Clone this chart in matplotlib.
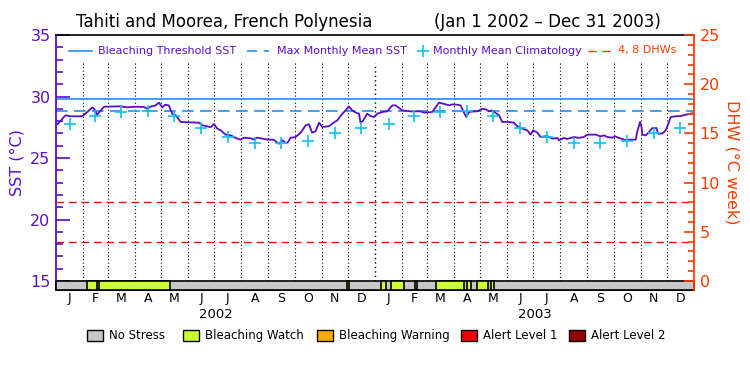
import numpy as np
import matplotlib
matplotlib.use("Agg")
import matplotlib.pyplot as plt
from matplotlib.patches import Rectangle
from matplotlib.lines import Line2D
from matplotlib.ticker import MultipleLocator

# daily SST trace (days since Jan 1 2002, deg C)
sst_day = [0, 3.4, 9, 11, 16.8, 30, 35.8, 41.6, 44, 47, 55, 74, 81.6, 91, 100.7, 104.5,
           108, 114, 117.8, 121.6, 124.7, 129, 133, 137, 142.6, 152, 163.6, 167.4, 173,
           177, 180.8, 184.6, 188.4, 194, 200, 205.6, 211, 215, 222.7, 226.5, 230, 238,
           243.7, 249, 255, 259, 262.8, 265, 268.5, 274, 280, 285.7, 289.5, 293, 297,
           301, 304.7, 312.3, 316, 321.8, 327.6, 331.5, 335, 339, 343, 346.7, 348.5,
           351.6, 356, 360, 363.8, 367.6, 373.3, 379, 384.8, 388.6, 392.4, 396.2, 405.8,
           417, 421, 430.6, 434.5, 438.2, 444, 449.7, 453.4, 459, 463, 466.8, 469.5,
           472.5, 478.3, 482, 487.8, 491.6, 495.4, 499, 506.9, 510.6, 518, 524, 527.8,
           533.5, 539.3, 543, 546, 550.7, 554.6, 562, 568, 573.7, 575.5, 581, 585,
           592.7, 598, 604, 607.9, 617.5, 623, 627, 630.8, 636.5, 640, 644, 648, 652,
           655.6, 663.3, 665, 668.3, 670, 671, 674.8, 678.6, 682.4, 687, 689, 694,
           697.6, 701.4, 703.3, 709, 714.7, 720.5, 726, 730]
sst_val = [27.66, 27.87, 28.33, 28.47, 28.39, 28.39, 28.74, 29.12, 28.96, 28.52, 29.17,
           29.2, 29.12, 29.17, 29.15, 29.0, 29.17, 29.28, 29.5, 29.12, 29.33, 29.28,
           28.6, 28.47, 27.93, 27.9, 27.87, 27.66, 27.58, 27.5, 27.77, 27.38, 27.25,
           26.9, 26.84, 26.63, 26.49, 26.65, 26.6, 26.5, 26.65, 26.55, 26.49, 26.49,
           26.16, 26.44, 26.22, 26.25, 26.65, 26.7, 27.06, 27.66, 27.74, 27.06, 27.17,
           27.87, 27.52, 27.58, 27.79, 28.06, 28.6, 28.87, 29.2, 28.87, 28.69, 28.6,
           27.84, 28.06, 28.6, 28.41, 28.33, 28.6, 28.74, 28.79, 29.28, 29.28, 29.07,
           28.87, 28.79, 28.79, 28.69, 28.74, 29.14, 29.5, 29.4, 29.28, 29.36, 29.33,
           29.28, 28.69, 28.33, 28.74, 28.79, 28.79, 29.0, 28.96, 28.79, 28.87, 28.47,
           27.93, 27.93, 27.87, 27.58, 27.38, 27.25, 26.9, 27.25, 27.06, 26.71, 26.79,
           26.57, 26.63, 26.44, 26.63, 26.55, 26.71, 26.63, 26.71, 26.9, 26.9, 26.76,
           26.84, 26.71, 26.65, 26.76, 26.63, 26.55, 26.44, 26.49, 26.49, 27.11, 27.93,
           27.52, 26.9, 26.84, 27.11, 27.44, 27.44, 26.97, 27.0, 27.25, 27.93, 28.33,
           28.39, 28.41, 28.52, 28.6, 28.66]

# monthly mean climatology, Jan..Dec
clim_sst = [27.8, 28.4, 28.75, 28.8, 28.4, 27.4, 26.7, 26.2, 26.25, 26.35, 27.05, 27.45]

threshold_sst = 29.8
mmm_sst = 28.8
dhw_levels = [4, 8]

# bleaching watch periods in the stress strip (days since Jan 1 2002)
watch_start = [35.8, 49.2, 333.3, 371.9, 383.3, 411.1, 434.4, 470.6, 481.3, 497.4]
watch_end = [47.3, 130.4, 335.6, 377.6, 398.5, 413.4, 467.2, 474.5, 494.6, 501.1]

month_letters = ["J", "F", "M", "A", "M", "J", "J", "A", "S", "O", "N", "D"]
years = ["2002", "2003"]

stress_names = ["No Stress", "Bleaching Watch", "Bleaching Warning",
                "Alert Level 1", "Alert Level 2"]
stress_colors = ["#c8c8c8", "#ccff33", "#ffaa00", "#ee0000", "#960000"]

PURPLE = "#5a0dc8"
BLUE = "#1e90f0"
CYAN = "#10c0f0"
RED = "#e81010"
ORANGE = "#ff3c00"

W, H = 750, 375


def fx(px):
    return px / W


def fy(py):
    return 1 - py / H


def main():
    fig = plt.figure(figsize=(7.5, 3.75), dpi=100)
    ax = fig.add_axes([fx(56), fy(290), 638 / W, 255 / H])

    sst_lo = 15 - 9 / 12.3
    ax.set_xlim(0, 730)
    ax.set_ylim(sst_lo, 35)

    ax2 = ax.twinx()
    ax2.set_ylim((sst_lo - 15) * 1.25, 25)

    # month boundaries / mid points
    starts = np.arange("2002-01", "2004-02", dtype="datetime64[M]").astype("datetime64[D]")
    sdays = (starts - np.datetime64("2002-01-01")).astype(int)
    mids = (sdays[:-1] + sdays[1:]) / 2

    for d in sdays[1:-1]:
        ax.plot([d, d], [15, 32.7], color="black", lw=1.0 if d == 365 else 0.8,
                linestyle=(0, (1, 2.2)), zorder=1)

    ax.axhline(threshold_sst, color=BLUE, lw=1.2, zorder=2)
    ax.axhline(mmm_sst, color=BLUE, lw=1.2, linestyle=(0, (7, 3.8)), zorder=2)
    for lev in dhw_levels:
        ax.axhline(15 + lev / 1.25, color=RED, lw=1.0, linestyle=(0, (5.5, 3.5)), zorder=2)

    ax.plot(sst_day, sst_val, color=PURPLE, lw=1.3, zorder=4)
    ax.plot(mids, clim_sst * 2, linestyle="none", marker="+", ms=8, mew=1.2,
            color=CYAN, zorder=5)

    # stress strip
    ax.add_patch(Rectangle((0, sst_lo), 730, 15 - sst_lo, facecolor=stress_colors[0],
                           edgecolor="black", lw=1.2, zorder=3, clip_on=False))
    for s, e in zip(watch_start, watch_end):
        ax.add_patch(Rectangle((s, sst_lo), e - s, 15 - sst_lo, facecolor=stress_colors[1],
                               edgecolor="black", lw=1.2, zorder=3, clip_on=False))

    # axes styling
    ax.set_xticks([])
    ax.set_yticks([15, 20, 25, 30, 35])
    ax.yaxis.set_minor_locator(MultipleLocator(1))
    ax.tick_params(axis="y", which="both", direction="in", colors=PURPLE, labelsize=11.5,
                   pad=4)
    ax.tick_params(axis="y", which="major", length=10, width=1.2)
    ax.tick_params(axis="y", which="minor", length=5, width=1.2)
    ax.spines["left"].set_color(PURPLE)
    ax.spines["left"].set_linewidth(1.3)
    ax.spines["right"].set_visible(False)
    for s in ["top", "bottom"]:
        ax.spines[s].set_linewidth(1.2)

    ax2.set_yticks([0, 5, 10, 15, 20, 25])
    ax2.yaxis.set_minor_locator(MultipleLocator(1))
    ax2.tick_params(axis="y", which="both", direction="in", colors=ORANGE, labelsize=11.5,
                    pad=4)
    ax2.tick_params(axis="y", which="major", length=7, width=1.2)
    ax2.tick_params(axis="y", which="minor", length=4.5, width=1.2)
    for s in ["left", "top", "bottom"]:
        ax2.spines[s].set_visible(False)
    ax2.spines["right"].set_color(ORANGE)
    ax2.spines["right"].set_linewidth(1.3)

    ax.set_ylabel("SST (°C)", color=PURPLE, fontsize=11.5, labelpad=4)
    ax2.set_ylabel("DHW (°C week)", color=ORANGE, fontsize=11.5, rotation=270,
                   labelpad=14)

    # month and year labels
    xt = ax.get_xaxis_transform()
    for i, m in enumerate(mids):
        ax.text(m, -0.035, month_letters[i % 12], transform=xt, ha="center",
                va="center", fontsize=9)
    for i, y in enumerate(years):
        ax.text(182.5 + 365 * i, -0.098, y, transform=xt, ha="center", va="center",
                fontsize=9.5)

    # title
    fig.text(fx(76), fy(22), "Tahiti and Moorea, French Polynesia", fontsize=12,
             va="center", ha="left")
    fig.text(fx(547), fy(22), "(Jan 1 2002 \u2013 Dec 31 2003)", fontsize=12,
             va="center", ha="center")

    # in-plot legend
    ly = fy(50.5)
    fig.add_artist(Line2D([fx(69), fx(92)], [ly, ly], color=BLUE, lw=1.2))
    fig.text(fx(98), ly, "Bleaching Threshold SST", color=PURPLE, fontsize=8, va="center")
    fig.add_artist(Line2D([fx(247), fx(269)], [ly, ly], color=BLUE, lw=1.2,
                          linestyle=(0, (6, 4))))
    fig.text(fx(277), ly, "Max Monthly Mean SST", color=PURPLE, fontsize=8, va="center")
    fig.add_artist(Line2D([fx(422.7)], [ly], color=CYAN, marker="+", ms=8, mew=1.2))
    fig.text(fx(433), ly, "Monthly Mean Climatology", color=PURPLE, fontsize=8,
             va="center")
    fig.add_artist(Line2D([fx(588), fx(612)], [ly, ly], color=ORANGE, lw=1.0,
                          linestyle=(0, (6, 4))))
    fig.text(fx(618), ly, "4, 8 DHWs", color=ORANGE, fontsize=8, va="center")

    # stress legend
    box_x = [87, 183, 317, 461, 569]
    for bx, name, col in zip(box_x, stress_names, stress_colors):
        fig.add_artist(Rectangle((fx(bx), fy(341)), 16 / W, 11 / H, facecolor=col,
                                 edgecolor="black", lw=1.0, transform=fig.transFigure))
        fig.text(fx(bx + 22), fy(335.5), name, fontsize=8.5, va="center", ha="left")

    fig.savefig("out.png", dpi=100)
    plt.close(fig)


if __name__ == "__main__":
    main()
